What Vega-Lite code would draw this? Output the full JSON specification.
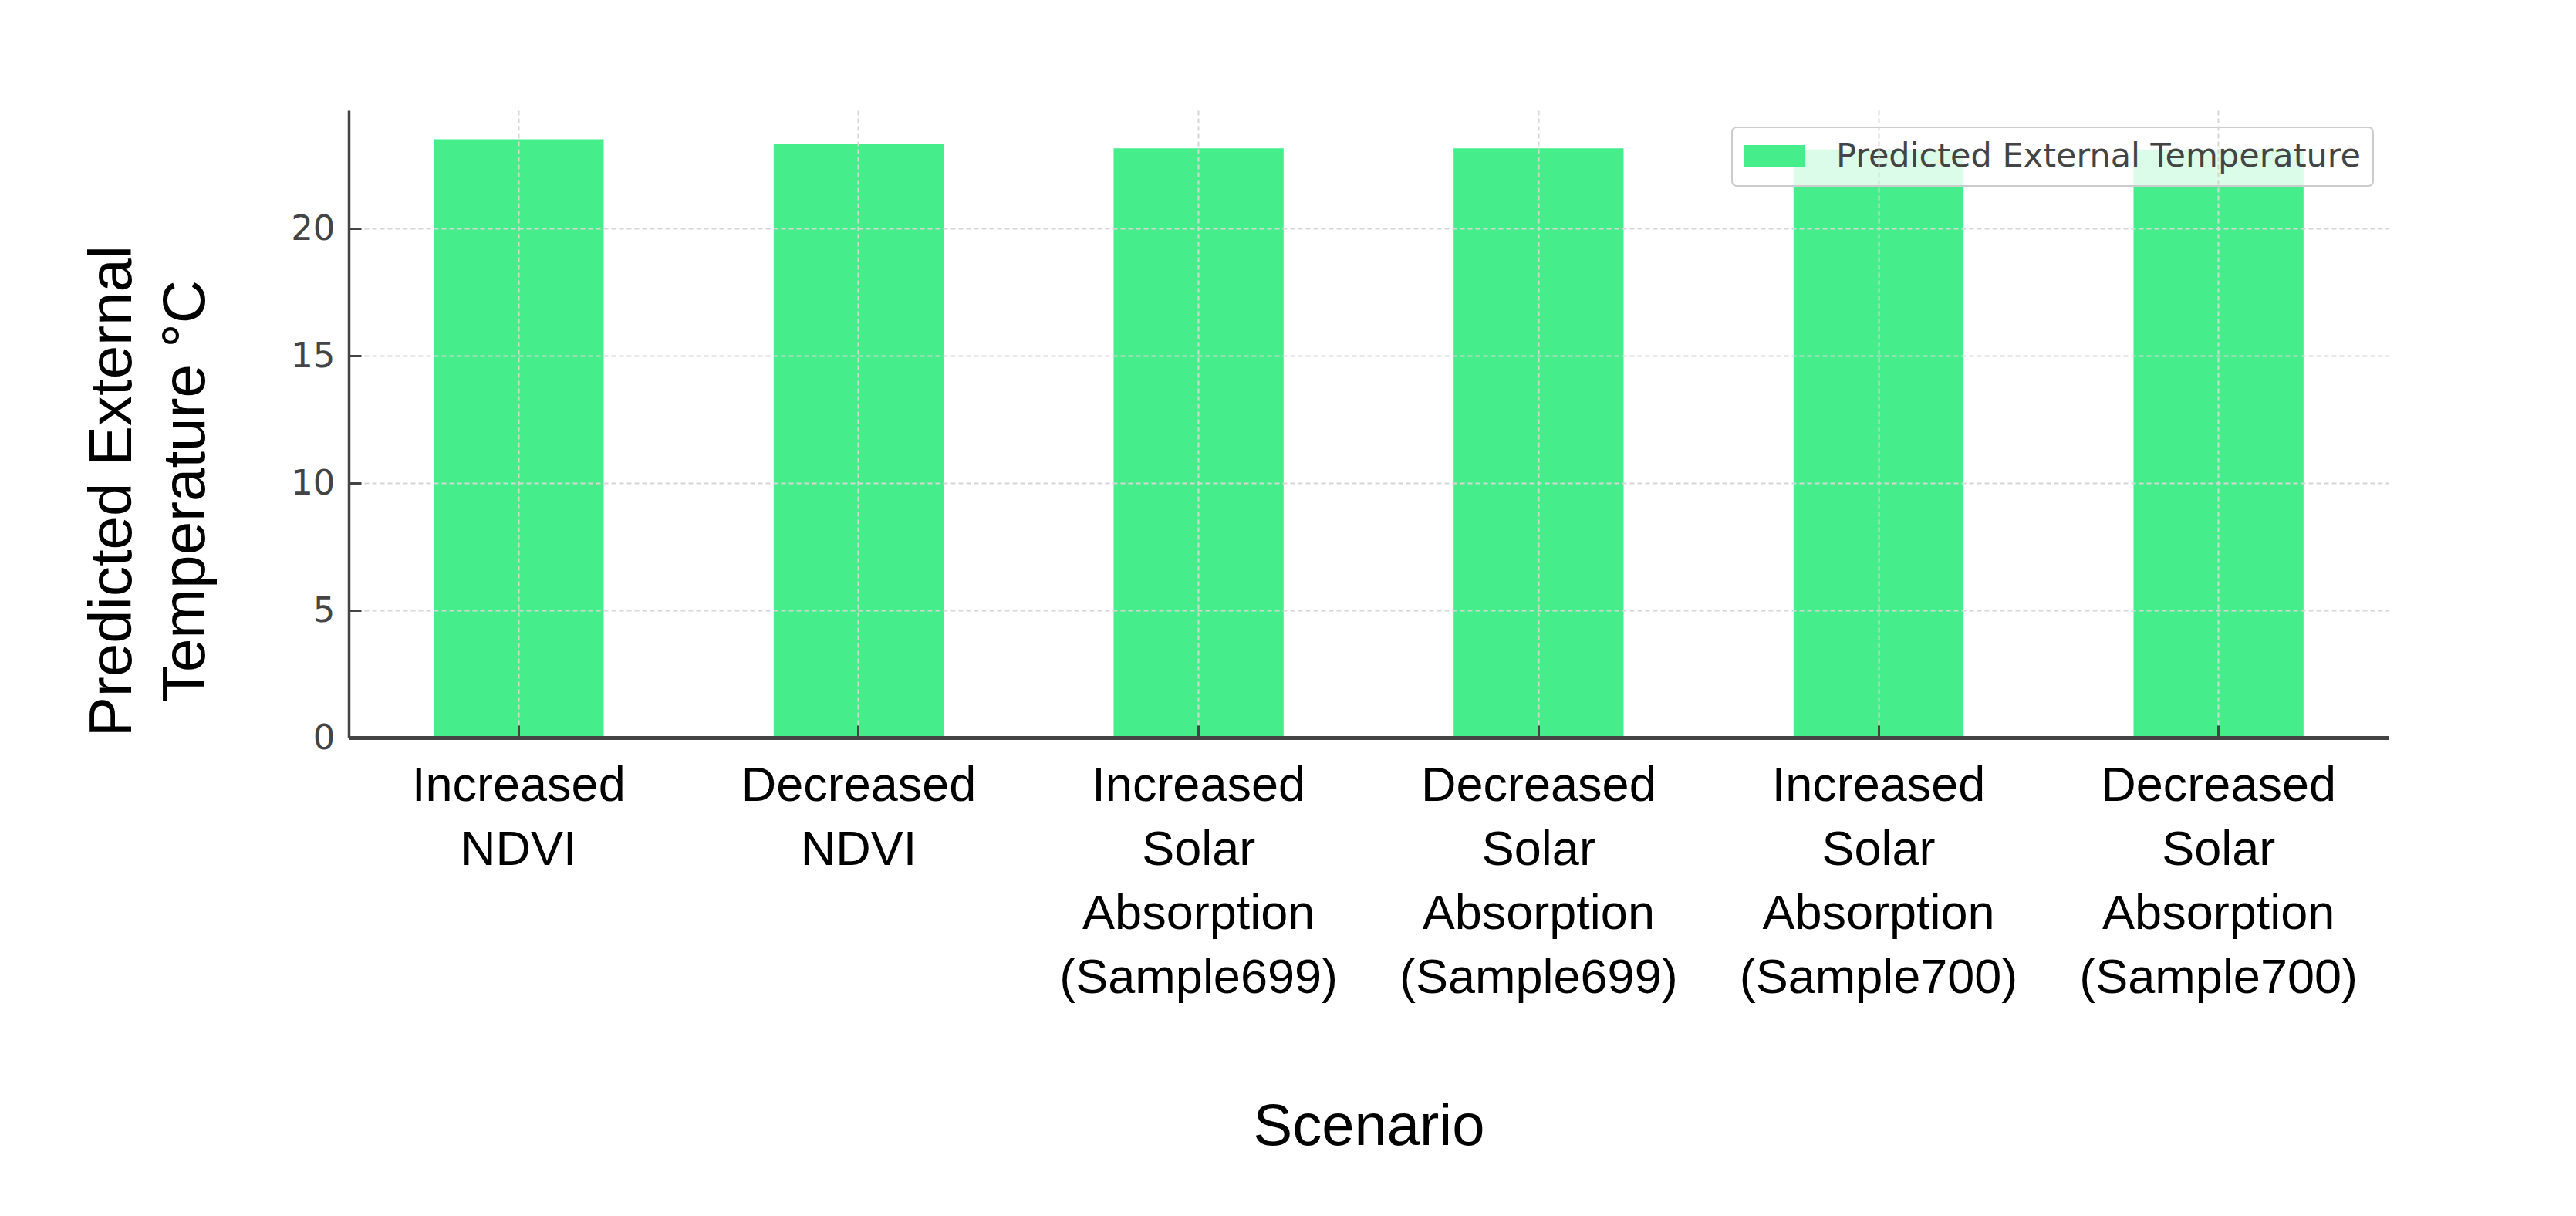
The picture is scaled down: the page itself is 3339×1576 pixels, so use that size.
{
  "$schema": "https://vega.github.io/schema/vega-lite/v6.json",
  "width": 2644,
  "height": 813,
  "autosize": {"type": "none"},
  "padding": {"left": 452, "top": 143, "right": 243, "bottom": 620},
  "background": "white",
  "data": {
    "values": [
      {"scenario": "Increased NDVI", "temp": 23.5, "series": "Predicted External Temperature"},
      {"scenario": "Decreased NDVI", "temp": 23.33, "series": "Predicted External Temperature"},
      {"scenario": "Increased Solar Absorption (Sample699)", "temp": 23.15, "series": "Predicted External Temperature"},
      {"scenario": "Decreased Solar Absorption (Sample699)", "temp": 23.15, "series": "Predicted External Temperature"},
      {"scenario": "Increased Solar Absorption (Sample700)", "temp": 23.1, "series": "Predicted External Temperature"},
      {"scenario": "Decreased Solar Absorption (Sample700)", "temp": 23.1, "series": "Predicted External Temperature"}
    ]
  },
  "mark": {"type": "bar"},
  "encoding": {
    "x": {
      "field": "scenario",
      "type": "nominal",
      "sort": null,
      "scale": {"paddingInner": 0.5, "paddingOuter": 0.25},
      "axis": {
        "title": "Scenario",
        "titleFont": "Liberation Sans",
        "titleFontSize": 76,
        "titleFontWeight": "normal",
        "titleColor": "black",
        "titleBaseline": "alphabetic",
        "titleY": 527,
        "labelExpr": "split(datum.label, ' ')",
        "labelAngle": 0,
        "labelFont": "Liberation Sans",
        "labelFontSize": 63,
        "labelLineHeight": 83,
        "labelColor": "black",
        "labelBaseline": "alphabetic",
        "labelPadding": 97,
        "labelLimit": 2000,
        "labelOverlap": false,
        "tickSize": -16,
        "tickWidth": 3,
        "tickColor": "#444444",
        "domainColor": "#444444",
        "domainWidth": 5,
        "grid": true,
        "gridColor": "#d6d6d6",
        "gridWidth": 2,
        "gridDash": [6, 4],
        "zindex": 1
      }
    },
    "y": {
      "field": "temp",
      "type": "quantitative",
      "scale": {"domain": [0, 24.64], "nice": false},
      "axis": {
        "title": ["Predicted External", "Temperature °C"],
        "titleFont": "Liberation Sans",
        "titleFontSize": 78,
        "titleFontWeight": "normal",
        "titleColor": "black",
        "titleAngle": 270,
        "titleLineHeight": 95,
        "titleBaseline": "alphabetic",
        "titleAlign": "center",
        "titleX": -283,
        "titleY": 493,
        "values": [0, 5, 10, 15, 20],
        "labelFont": "DejaVu Sans",
        "labelFontSize": 45,
        "labelColor": "#444444",
        "labelPadding": 34,
        "tickSize": -16,
        "tickWidth": 3,
        "tickColor": "#444444",
        "domainColor": "#444444",
        "domainWidth": 3.5,
        "grid": true,
        "gridColor": "#d6d6d6",
        "gridWidth": 2,
        "gridDash": [6, 4],
        "zindex": 1
      }
    },
    "color": {
      "field": "series",
      "type": "nominal",
      "scale": {"range": ["#45ee8b"]},
      "legend": {
        "title": null,
        "orient": "none",
        "legendX": 1793,
        "legendY": 22,
        "padding": 16,
        "fillColor": "rgba(255,255,255,0.8)",
        "strokeColor": "#cccccc",
        "cornerRadius": 6,
        "symbolType": "M-1.55,-1H3.97V1H-1.55Z",
        "symbolSize": 841,
        "symbolStrokeWidth": 0,
        "symbolOpacity": 1,
        "labelFont": "DejaVu Sans",
        "labelFontSize": 43,
        "labelColor": "#444444",
        "labelOffset": 76,
        "labelLimit": 2000
      }
    }
  },
  "config": {"view": {"stroke": null}, "legend": {"strokeWidth": 2}}
}
